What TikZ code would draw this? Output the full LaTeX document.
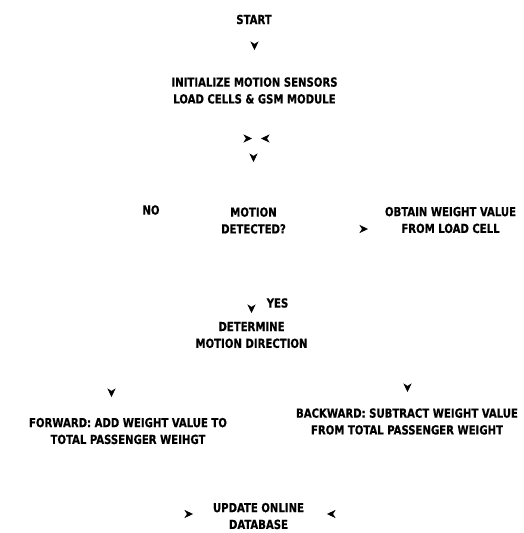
\documentclass[tikz,border=0pt]{standalone}
\usepackage{fontspec}
\setmainfont{DejaVu Sans Condensed}[BoldFeatures={FakeStretch=0.9,FakeBold=0.5}]
\usetikzlibrary{arrows.meta}
\tikzset{
  lbl/.style={align=center, inner sep=0pt, font=\fontsize{12.5pt}{16.8pt}\selectfont\bfseries, text=black},
  tip/.style={draw=white, line width=0.4pt, -{Stealth[black, length=8.5pt, width=8pt, inset=2.5pt]}}
}
\begin{document}
\begin{tikzpicture}[x=1pt, y=-1pt]
\useasboundingbox (0,0) rectangle (523,533);
\node[lbl] (start) at (254,19.5) {START};
\node[lbl] (init) at (254.5,90.5) {INITIALIZE MOTION SENSORS\\LOAD CELLS \& GSM MODULE};
\node[lbl] (no) at (151,210) {NO};
\node[lbl] (motion) at (253.5,220.5) {MOTION\\DETECTED?};
\node[lbl] (obtain) at (450.5,220) {OBTAIN WEIGHT VALUE\\FROM LOAD CELL};
\node[lbl] (yes) at (277.5,303) {YES};
\node[lbl] (dir) at (251.5,335) {DETERMINE\\MOTION DIRECTION};
\node[lbl] (fwd) at (128,431) {FORWARD: ADD WEIGHT VALUE TO\\TOTAL PASSENGER WEIHGT};
\node[lbl] (bwd) at (407,421.5) {BACKWARD: SUBTRACT WEIGHT VALUE\\FROM TOTAL PASSENGER WEIGHT};
\node[lbl] (upd) at (258.5,516) {UPDATE ONLINE\\DATABASE};
% arrow tips (connector lines are not shown in the picture)
\coordinate (a1) at (254.5,50);
\coordinate (a2) at (252,138.5);
\coordinate (a3) at (261,138.5);
\coordinate (a4) at (253.5,162);
\coordinate (a5) at (368,229);
\coordinate (a6) at (251.5,313);
\coordinate (a7) at (111.5,397);
\coordinate (a8) at (407.5,392);
\coordinate (a9) at (193,514);
\coordinate (a10) at (327,514);
\draw[tip] ([yshift=4pt]a1) -- (a1);
\draw[tip] ([xshift=-4pt]a2) -- (a2);
\draw[tip] ([xshift=4pt]a3) -- (a3);
\draw[tip] ([yshift=4pt]a4) -- (a4);
\draw[tip] ([xshift=-4pt]a5) -- (a5);
\draw[tip] ([yshift=4pt]a6) -- (a6);
\draw[tip] ([yshift=4pt]a7) -- (a7);
\draw[tip] ([yshift=4pt]a8) -- (a8);
\draw[tip] ([xshift=-4pt]a9) -- (a9);
\draw[tip] ([xshift=4pt]a10) -- (a10);
\end{tikzpicture}
\end{document}
